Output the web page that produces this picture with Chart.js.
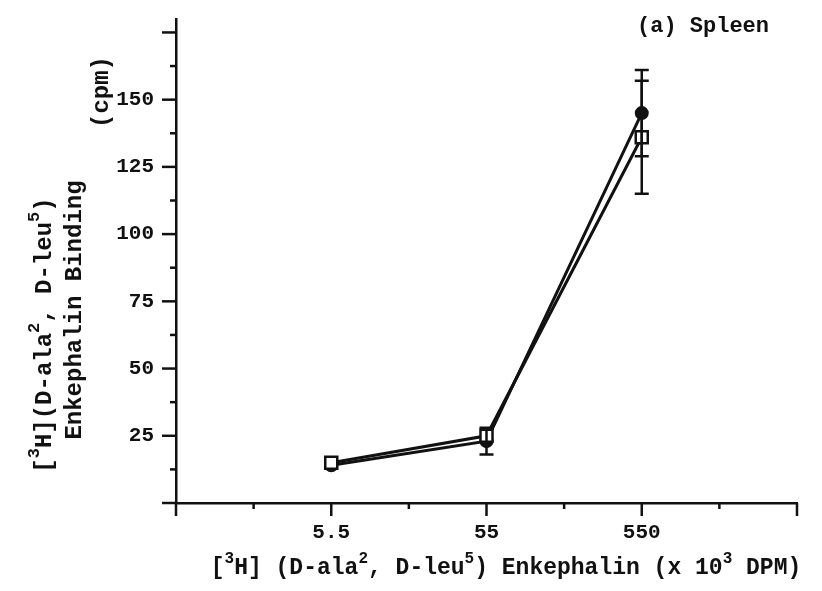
<!DOCTYPE html>
<html>
<head>
<meta charset="utf-8">
<script src="https://cdn.jsdelivr.net/npm/chart.js@4/dist/chart.umd.min.js"></script>
<style>
  html, body { margin: 0; padding: 0; background: #fff; }
  canvas { display: block; }
</style>
</head>
<body>
<canvas id="chart" width="822" height="591"></canvas>
<script>
// data
const doses = [5.5, 55, 550];
const filledMeans = [14, 23, 145];
const filledErr = [0, 5, 16];
const openMeans = [15, 25, 136];
const openErr = [0, 0, 21];

// axes
const xTicks = [0.55, 1.739, 5.5, 17.39, 55, 173.9, 550, 1739, 5500];
const xTickLabels = ['', '', '5.5', '', '55', '', '550', '', ''];
const yTicks = [0, 12.5, 25, 37.5, 50, 62.5, 75, 87.5, 100, 112.5, 125, 137.5, 150, 162.5, 175];
const yTickLabels = ['', '', '25', '', '50', '', '75', '', '100', '', '125', '', '150', '', ''];

const FONT = '"Liberation Mono", "DejaVu Sans Mono", monospace';
const WEIGHT = 'bold ';
const INK = '#111';

function points(vals) {
    return doses.map((d, i) => ({ x: d, y: vals[i] }));
}

// text with superscripts: parts = [[text, isSup], ...]
function setFont(ctx, size, sup) {
    ctx.font = WEIGHT + (sup ? Math.round(size * 0.7) : size) + 'px ' + FONT;
}
function richWidth(ctx, parts, size) {
    let w = 0;
    parts.forEach(([t, sup]) => {
        setFont(ctx, size, sup);
        w += ctx.measureText(t).width;
    });
    return w;
}
function drawRich(ctx, parts, x, y, size) {
    let cx = x;
    parts.forEach(([t, sup]) => {
        setFont(ctx, size, sup);
        ctx.fillText(t, cx, sup ? y - size * 0.5 : y);
        cx += ctx.measureText(t).width;
    });
}

const xLabel = [['[', 0], ['3', 1], ['H] (D-ala', 0], ['2', 1], [', D-leu', 0], ['5', 1],
    [') Enkephalin (x 10', 0], ['3', 1], [' DPM)', 0]];
const yLabel1 = [['[', 0], ['3', 1], ['H](D-ala', 0], ['2', 1], [', D-leu', 0], ['5', 1], [')', 0]];
const yLabel2 = [['Enkephalin Binding', 0]];
const yLabel3 = [['(cpm)', 0]];

const decorations = {
    id: 'decorations',
    afterDraw(chart) {
        const ctx = chart.ctx;
        const xs = chart.scales.x, ys = chart.scales.y;
        const area = chart.chartArea;
        ctx.save();
        ctx.strokeStyle = INK;
        ctx.fillStyle = INK;
        ctx.lineWidth = 2.5;

        // tick marks (long for majors, short for minors)
        xs.ticks.forEach((t, i) => {
            const px = xs.getPixelForTick(i);
            const len = i % 2 === 0 ? 13 : 6;
            ctx.beginPath();
            ctx.moveTo(px, area.bottom);
            ctx.lineTo(px, area.bottom + len);
            ctx.stroke();
        });
        ys.ticks.forEach((t, i) => {
            const py = ys.getPixelForTick(i);
            const len = i % 2 === 0 ? 14 : 6;
            ctx.beginPath();
            ctx.moveTo(area.left, py);
            ctx.lineTo(area.left - len, py);
            ctx.stroke();
        });

        // error bars
        const drawErr = (means, errs) => {
            means.forEach((m, i) => {
                if (!errs[i]) return;
                const px = xs.getPixelForValue(doses[i]);
                const top = ys.getPixelForValue(m + errs[i]);
                const bot = ys.getPixelForValue(m - errs[i]);
                ctx.beginPath();
                ctx.moveTo(px, top); ctx.lineTo(px, bot);
                ctx.moveTo(px - 7, top); ctx.lineTo(px + 7, top);
                ctx.moveTo(px - 7, bot); ctx.lineTo(px + 7, bot);
                ctx.stroke();
            });
        };
        drawErr(filledMeans, filledErr);
        drawErr(openMeans, openErr);

        // title
        ctx.textBaseline = 'alphabetic';
        ctx.textAlign = 'left';
        setFont(ctx, 22, false);
        ctx.fillText('(a) Spleen', 637, 32);

        // x axis title
        const xw = richWidth(ctx, xLabel, 23);
        drawRich(ctx, xLabel, 506 - xw / 2, 574, 23);

        // y axis title (rotated)
        const rot = (parts, bx, cy, size) => {
            ctx.save();
            ctx.translate(bx, cy);
            ctx.rotate(-Math.PI / 2);
            const w = richWidth(ctx, parts, size);
            drawRich(ctx, parts, -w / 2, 0, size);
            ctx.restore();
        };
        rot(yLabel1, 51, 335, 24);
        rot(yLabel2, 81, 310, 24);
        rot(yLabel3, 108, 92, 24);
        ctx.restore();
    }
};

new Chart(document.getElementById('chart'), {
    type: 'line',
    data: {
        datasets: [
            {
                label: 'open',
                data: points(openMeans),
                borderColor: INK,
                borderWidth: 3,
                pointStyle: 'rect',
                pointRadius: 8.5,
                pointBackgroundColor: '#fff',
                pointBorderColor: INK,
                pointBorderWidth: 2.5,
                tension: 0
            },
            {
                label: 'filled',
                data: points(filledMeans),
                borderColor: INK,
                borderWidth: 3,
                pointStyle: 'circle',
                pointRadius: 5.5,
                pointBackgroundColor: INK,
                pointBorderColor: INK,
                tension: 0
            }
        ]
    },
    options: {
        responsive: false,
        animation: false,
        devicePixelRatio: 1,
        layout: { padding: { top: 19, right: 25, left: 0, bottom: 0 } },
        plugins: { legend: { display: false }, tooltip: { enabled: false } },
        scales: {
            x: {
                type: 'logarithmic',
                min: 0.55,
                max: 5500,
                afterBuildTicks: (scale) => { scale.ticks = xTicks.map(v => ({ value: v })); },
                afterFit: (scale) => { scale.height = 88; scale.paddingLeft = 0; scale.paddingRight = 0; },
                grid: { display: false },
                border: { display: true, color: INK, width: 2.5 },
                ticks: {
                    autoSkip: false,
                    maxRotation: 0,
                    padding: 9,
                    color: INK,
                    font: { family: FONT, size: 21, weight: 'bold' },
                    callback: (v, i) => xTickLabels[i]
                }
            },
            y: {
                min: 0,
                max: 180,
                afterBuildTicks: (scale) => { scale.ticks = yTicks.map(v => ({ value: v })); },
                afterFit: (scale) => { scale.width = 176; scale.paddingTop = 0; scale.paddingBottom = 0; },
                grid: { display: false },
                border: { display: true, color: INK, width: 2.5 },
                ticks: {
                    autoSkip: false,
                    padding: 14,
                    color: INK,
                    font: { family: FONT, size: 21, weight: 'bold' },
                    callback: (v, i) => yTickLabels[i]
                }
            }
        }
    },
    plugins: [decorations]
});
</script>
</body>
</html>
